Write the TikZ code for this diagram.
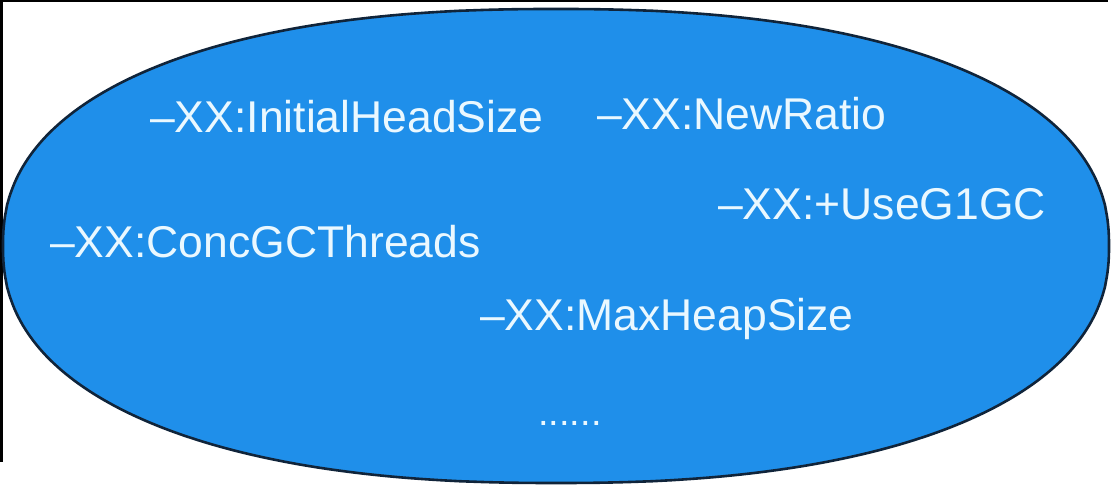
\documentclass[tikz,border=0pt]{standalone}
\usepackage{fontspec}
\setmainfont{Liberation Sans}
\definecolor{blobfill}{HTML}{1F8FEA}
\definecolor{blobline}{HTML}{10243A}
\definecolor{txt}{HTML}{EAF8FF}
\begin{document}
\begin{tikzpicture}[x=1pt,y=1pt,
  lbl/.style={anchor=base west,inner sep=0pt,text=txt,font=\fontsize{44.5}{50}\selectfont}]
\useasboundingbox (0,0) rectangle (1116,492);
\fill[white] (0,0) rectangle (1116,492);
% screenshot frame edges
\fill[black] (0,490) rectangle (1108,492);
\fill[black] (0,30) rectangle (3,492);
% superellipse
\draw[line width=2.6pt,draw=blobline,fill=blobfill]
  plot[domain=0.5:359.5,samples=360]
  ({556+553*sign(cos(\x))*pow(abs(cos(\x)),0.87)},
   {246+237*sign(sin(\x))*pow(abs(sin(\x)),0.87)}) -- cycle;
\node[lbl] (ihs) at (150,359) {–XX:InitialHeadSize};
\node[lbl] (nr) at (597,362) {–XX:NewRatio};
\node[lbl] (g1) at (718,272) {–XX:+UseG1GC};
\node[lbl] (cgc) at (50,234) {–XX:ConcGCThreads};
\node[lbl] (mhs) at (480,161) {–XX:MaxHeapSize};
\node[lbl,font=\fontsize{38}{44}\selectfont] (dots) at (538,66) {......};
\end{tikzpicture}
\end{document}
